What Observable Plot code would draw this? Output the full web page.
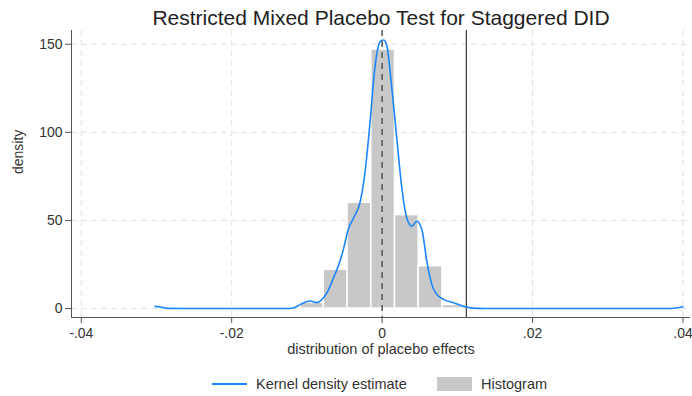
<!DOCTYPE html>
<html>
<head>
<meta charset="utf-8">
<script src="https://cdn.jsdelivr.net/npm/d3@7"></script>
<script src="https://cdn.jsdelivr.net/npm/@observablehq/plot@0.6"></script>
<style>
  html, body { margin: 0; padding: 0; background: #fff; }
  body { width: 692px; height: 396px; position: relative; overflow: hidden; font-family: "Liberation Sans", Arial, sans-serif; color: #333; }
  #title { position: absolute; top: 8px; left: 381px; transform: translateX(-50%); white-space: nowrap; font-size: 21px; line-height: 20px; color: #222; }
  #chart { position: absolute; top: 0; left: 0; }
  .leg { position: absolute; font-size: 14.5px; line-height: 16px; color: #333; white-space: nowrap; }
</style>
</head>
<body>
<div id="chart"></div>
<div id="title">Restricted Mixed Placebo Test for Staggered DID</div>
<div class="leg" style="left:212px; top:383px; width:35px; height:0; border-top:2px solid #1a85ff;"></div>
<div class="leg" style="left:256px; top:376px;">Kernel density estimate</div>
<div class="leg" style="left:437px; top:377px; width:35px; height:14px; background:#c8c8c8;"></div>
<div class="leg" style="left:481px; top:376px;">Histogram</div>
<script>
// ---- data ----
const xTickValues = [-0.04, -0.02, 0, 0.02, 0.04];
const xTickLabels = ["-.04", "-.02", "0", ".02", ".04"];
const yTickValues = [0, 50, 100, 150];
const xDomain = [-0.0413, 0.041];
const yDomain = [-5.1, 157.8];

const binLeft  = [-0.0109, -0.00775, -0.0046, -0.00144, 0.00171, 0.00486, 0.00801];
const binRight = [-0.00775, -0.0046, -0.00144, 0.00171, 0.00486, 0.00801, 0.01116];
const binDensity = [3.2, 22, 60, 147, 53, 24, 2];

const kdeX = [-0.0302, -0.0295, -0.0286, -0.025, -0.02, -0.015, -0.0125, -0.0118, -0.0108, -0.0096, -0.0087, -0.0078, -0.0072, -0.0065, -0.0056, -0.0051, -0.0045, -0.0038, -0.0029, -0.00226, -0.0016, -0.00102, -0.00027, 0.00017, 0.0006, 0.00129, 0.00195, 0.00262, 0.00328, 0.00395, 0.00461, 0.00528, 0.00594, 0.0066, 0.00727, 0.00815, 0.0095, 0.011, 0.0126, 0.015, 0.02, 0.03, 0.0385, 0.0392, 0.040];
const kdeY = [1.2, 0.9, 0.1, 0, 0, 0, 0.05, 0.3, 2.5, 4.3, 3.3, 6.1, 10, 17, 27, 34.4, 45, 51.4, 60.9, 77.9, 106, 134.5, 151.5, 152.4, 149.6, 125, 96.7, 68.4, 51.4, 46.7, 49.5, 44.8, 26.9, 13.7, 8, 5.2, 3.3, 1.0, 0.1, 0, 0, 0, 0, 0.4, 1.0];

const placeboCenter = 0;
const observedEffect = 0.0112;

// ---- tables built from the arrays ----
const bins = binDensity.map((d, i) => ({x1: binLeft[i], x2: binRight[i], y: d}));
const kde = kdeX.map((x, i) => ({x, y: kdeY[i]}));

const chart = Plot.plot({
  width: 692,
  height: 366,
  marginTop: 30,
  marginBottom: 49,
  marginLeft: 71,
  marginRight: 2,
  x: {domain: xDomain},
  y: {domain: yDomain},
  style: {fontFamily: "'Liberation Sans', Arial, sans-serif", fontSize: "14px", color: "#333", background: "white"},
  marks: [
    Plot.gridX(xTickValues, {stroke: "#e2e2e2", strokeOpacity: 1, strokeDasharray: "6,4", strokeWidth: 1}),
    Plot.gridY(yTickValues, {stroke: "#e2e2e2", strokeOpacity: 1, strokeDasharray: "6,4", strokeWidth: 1}),
    Plot.rectY(bins, {x1: "x1", x2: "x2", y: "y", fill: "#c8c8c8", stroke: "white", strokeWidth: 1.5}),
    Plot.ruleX([placeboCenter], {stroke: "#555", strokeDasharray: "6,5", strokeWidth: 1.5}),
    Plot.ruleX([observedEffect], {stroke: "#444", strokeWidth: 1.3}),
    Plot.line(kde, {x: "x", y: "y", stroke: "#1a85ff", strokeWidth: 1.6, curve: "monotone-x"}),
    Plot.ruleX([xDomain[0]], {stroke: "#555", strokeWidth: 1}),
    Plot.ruleY([yDomain[0]], {stroke: "#555", strokeWidth: 1}),
    Plot.axisX({ticks: xTickValues, tickFormat: d => xTickLabels[xTickValues.indexOf(d)], tickSize: 6, tickPadding: 5, label: null, stroke: "#555", fontSize: 14}),
    Plot.axisY({ticks: yTickValues, tickSize: 6, tickPadding: 3, label: null, stroke: "#555", fontSize: 14}),
    Plot.text(["density"], {frameAnchor: "left", rotate: -90, dx: -53, fontSize: 14, fill: "#333"}),
    Plot.text(["distribution of placebo effects"], {frameAnchor: "bottom", dy: 36, fontSize: 14.5, fill: "#333"})
  ]
});
document.getElementById("chart").appendChild(chart);
</script>
</body>
</html>
